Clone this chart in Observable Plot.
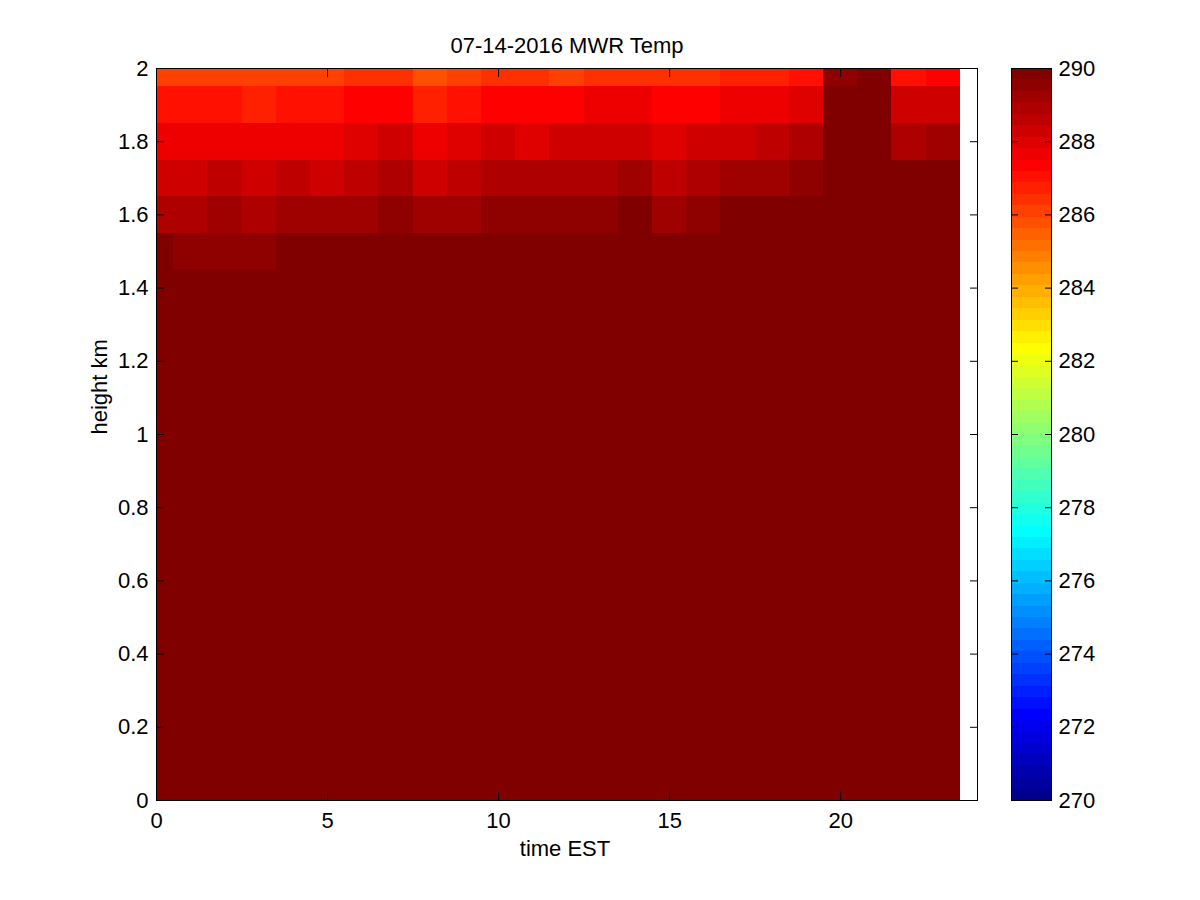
<!DOCTYPE html>
<html>
<head>
<meta charset="utf-8">
<script src="https://cdn.jsdelivr.net/npm/d3@7"></script>
<script src="https://cdn.jsdelivr.net/npm/@observablehq/plot@0.6"></script>
<style>
  html, body { margin: 0; padding: 0; background: #ffffff; }
  #wrap { position: relative; width: 1200px; height: 900px; background: #ffffff; }
  #main { position: absolute; left: 0; top: 0; }
  #cbar { position: absolute; left: 990px; top: 0; }
</style>
</head>
<body>
<div id="wrap"><div id="main"></div><div id="cbar"></div></div>
<script>
// ---- data ----
const title = "07-14-2016 MWR Temp";
const xLabel = "time EST";
const yLabel = "height km";
const hours = [0,1,2,3,4,5,6,7,8,9,10,11,12,13,14,15,16,17,18,19,20,21,22,23];
const heights = [0.0,0.1,0.2,0.3,0.4,0.5,0.6,0.7,0.8,0.9,1.0,1.1,1.2,1.3,1.4,1.5,1.6,1.7,1.8,1.9,2.0];
const xTicks = [0,5,10,15,20];
const yTicks = [0,0.2,0.4,0.6,0.8,1.0,1.2,1.4,1.6,1.8,2.0];
const cbarTicks = [270,272,274,276,278,280,282,284,286,288,290];
const cbarDomain = [270, 290];

// temperature (K) per height row, one value per hour
const t000 = [290,290,290,290,290,290,290,290,290,290,290,290,290,290,290,290,290,290,290,290,290,290,290,290];
const t010 = [290,290,290,290,290,290,290,290,290,290,290,290,290,290,290,290,290,290,290,290,290,290,290,290];
const t020 = [290,290,290,290,290,290,290,290,290,290,290,290,290,290,290,290,290,290,290,290,290,290,290,290];
const t030 = [290,290,290,290,290,290,290,290,290,290,290,290,290,290,290,290,290,290,290,290,290,290,290,290];
const t040 = [290,290,290,290,290,290,290,290,290,290,290,290,290,290,290,290,290,290,290,290,290,290,290,290];
const t050 = [290,290,290,290,290,290,290,290,290,290,290,290,290,290,290,290,290,290,290,290,290,290,290,290];
const t060 = [290,290,290,290,290,290,290,290,290,290,290,290,290,290,290,290,290,290,290,290,290,290,290,290];
const t070 = [290,290,290,290,290,290,290,290,290,290,290,290,290,290,290,290,290,290,290,290,290,290,290,290];
const t080 = [290,290,290,290,290,290,290,290,290,290,290,290,290,290,290,290,290,290,290,290,290,290,290,290];
const t090 = [290,290,290,290,290,290,290,290,290,290,290,290,290,290,290,290,290,290,290,290,290,290,290,290];
const t100 = [290,290,290,290,290,290,290,290,290,290,290,290,290,290,290,290,290,290,290,290,290,290,290,290];
const t110 = [290,290,290,290,290,290,290,290,290,290,290,290,290,290,290,290,290,290,290,290,290,290,290,290];
const t120 = [290,290,290,290,290,290,290,290,290,290,290,290,290,290,290,290,290,290,290,290,290,290,290,290];
const t130 = [290,290,290,290,290,290,290,290,290,290,290,290,290,290,290,290,290,290,290,290,290,290,290,290];
const t140 = [290,290,290,290,290,290,290,290,290,290,290,290,290,290,290,290,290,290,290,290,290,290,290,290];
const t150 = [289.9,289.5,289.5,289.5,289.9,289.9,289.9,289.9,289.9,289.9,289.9,289.9,289.9,289.9,289.9,289.9,289.9,289.9,289.9,289.9,289.9,289.9,289.9,289.9];
const t160 = [288.9,288.9,289.2,288.9,289.2,289.2,289.2,289.5,289.2,289.2,289.5,289.5,289.5,289.5,289.9,289.2,289.5,289.9,289.9,289.9,289.9,289.9,289.9,289.9];
const t170 = [288.4,288.3,288.6,288.3,288.6,288.3,288.6,288.9,288.3,288.6,288.9,288.9,288.9,288.9,289.2,288.6,288.9,289.2,289.2,289.5,289.9,289.9,289.9,289.9];
const t180 = [287.8,287.7,287.7,287.7,287.7,287.7,288.1,288.3,287.8,288.0,288.3,287.95,288.3,288.3,288.3,288.1,288.3,288.3,288.6,288.9,289.9,289.9,289.0,289.3];
const t190 = [287.1,287.0,287.0,286.6,287.0,287.0,287.2,287.2,286.6,286.9,287.4,287.4,287.4,287.7,287.7,287.4,287.4,287.7,287.7,288.1,289.9,289.9,288.3,288.3];
const t200 = [286.0,286.1,286.1,286.1,286.1,286.1,286.25,286.25,285.8,286.1,286.25,286.25,286.2,286.4,286.4,286.25,286.25,286.6,286.6,287.0,289.4,289.9,287.0,287.3];

const rows = [t000,t010,t020,t030,t040,t050,t060,t070,t080,t090,t100,t110,t120,t130,t140,t150,t160,t170,t180,t190,t200];

// tidy table built from the arrays
const cells = [];
heights.forEach((h, j) => hours.forEach((hr, i) => cells.push({hour: hr, height: h, temp: rows[j][i]})));

// MATLAB jet colormap, 64 discrete levels
function ju(k) { if (k < 1 || k > 47) return 0; if (k <= 16) return k / 16; if (k <= 31) return 1; return (48 - k) / 16; }
function jet(t) {
  let i = Math.floor(t * 64);
  if (!(i >= 0)) i = 0;
  if (i > 63) i = 63;
  const j = i + 1;
  const r = Math.round(255 * ju(j - 24)), g = Math.round(255 * ju(j - 8)), b = Math.round(255 * ju(j + 8));
  return `rgb(${r},${g},${b})`;
}
const colorScale = {type: "linear", domain: cbarDomain, clamp: true, interpolate: (t) => jet(t)};

const font = "'Liberation Sans', Arial, Helvetica, sans-serif";
const fs = 22;

const main = Plot.plot({
  width: 1200, height: 900,
  marginLeft: 156, marginRight: 223, marginTop: 68, marginBottom: 100,
  style: {fontFamily: font, fontSize: fs + "px", background: "white", color: "black"},
  x: {domain: [0, 24], label: null},
  y: {domain: [0, 2], label: null},
  color: colorScale,
  marks: [
    Plot.rect(cells, {
      x1: d => d.hour - 0.5, x2: d => d.hour + 0.5,
      y1: d => d.height - 0.05, y2: d => d.height + 0.05,
      fill: "temp", clip: true, shapeRendering: "crispEdges"
    }),
    // inward ticks, all four sides
    Plot.axisX({anchor: "bottom", ticks: xTicks, tickSize: 8, dy: -8, tickFormat: () => "", label: null, stroke: "black"}),
    Plot.axisX({anchor: "top", ticks: xTicks, tickSize: 8, dy: 8, tickFormat: () => "", label: null, stroke: "black"}),
    Plot.axisY({anchor: "left", ticks: yTicks, tickSize: 8, dx: 8, tickFormat: () => "", label: null, stroke: "black"}),
    Plot.axisY({anchor: "right", ticks: yTicks, tickSize: 8, dx: -8, tickFormat: () => "", label: null, stroke: "black"}),
    // tick labels
    Plot.axisX({anchor: "bottom", ticks: xTicks, tickSize: 0, tickPadding: 12, tickFormat: d => String(d), label: null, fontSize: fs, fill: "black"}),
    Plot.axisY({anchor: "left", ticks: yTicks, tickSize: 0, tickPadding: 8, tickFormat: d => String(+d.toFixed(1)), label: null, fontSize: fs, fill: "black"}),
    Plot.frame({stroke: "black", strokeWidth: 1}),
    Plot.text([title], {frameAnchor: "top", lineAnchor: "bottom", dy: -16, fontSize: fs, fill: "black"}),
    Plot.text([xLabel], {frameAnchor: "bottom", lineAnchor: "bottom", dy: 55, dx: -2, fontSize: fs, fill: "black"}),
    Plot.text([yLabel], {frameAnchor: "left", rotate: -90, dx: -57, fontSize: fs, fill: "black"})
  ]
});
document.getElementById("main").appendChild(main);

// colorbar
const levels = d3.range(64);
const step = (cbarDomain[1] - cbarDomain[0]) / 64;
const cbar = Plot.plot({
  width: 210, height: 900,
  marginLeft: 21, marginRight: 149, marginTop: 68, marginBottom: 100,
  style: {fontFamily: font, fontSize: fs + "px", background: "transparent", color: "black"},
  y: {domain: cbarDomain, label: null},
  color: colorScale,
  marks: [
    Plot.rect(levels, {
      y1: i => cbarDomain[0] + i * step, y2: i => cbarDomain[0] + (i + 1) * step,
      fill: i => cbarDomain[0] + (i + 0.5) * step, shapeRendering: "crispEdges"
    }),
    Plot.axisY({anchor: "left", ticks: cbarTicks, tickSize: 7, dx: 7, tickFormat: () => "", label: null, stroke: "black"}),
    Plot.axisY({anchor: "right", ticks: cbarTicks, tickSize: 7, dx: -7, tickFormat: () => "", label: null, stroke: "black"}),
    Plot.axisY({anchor: "right", ticks: cbarTicks, tickSize: 0, tickPadding: 7, tickFormat: d => String(d), label: null, fontSize: fs, fill: "black"}),
    Plot.frame({stroke: "black", strokeWidth: 1})
  ]
});
document.getElementById("cbar").appendChild(cbar);
</script>
</body>
</html>
